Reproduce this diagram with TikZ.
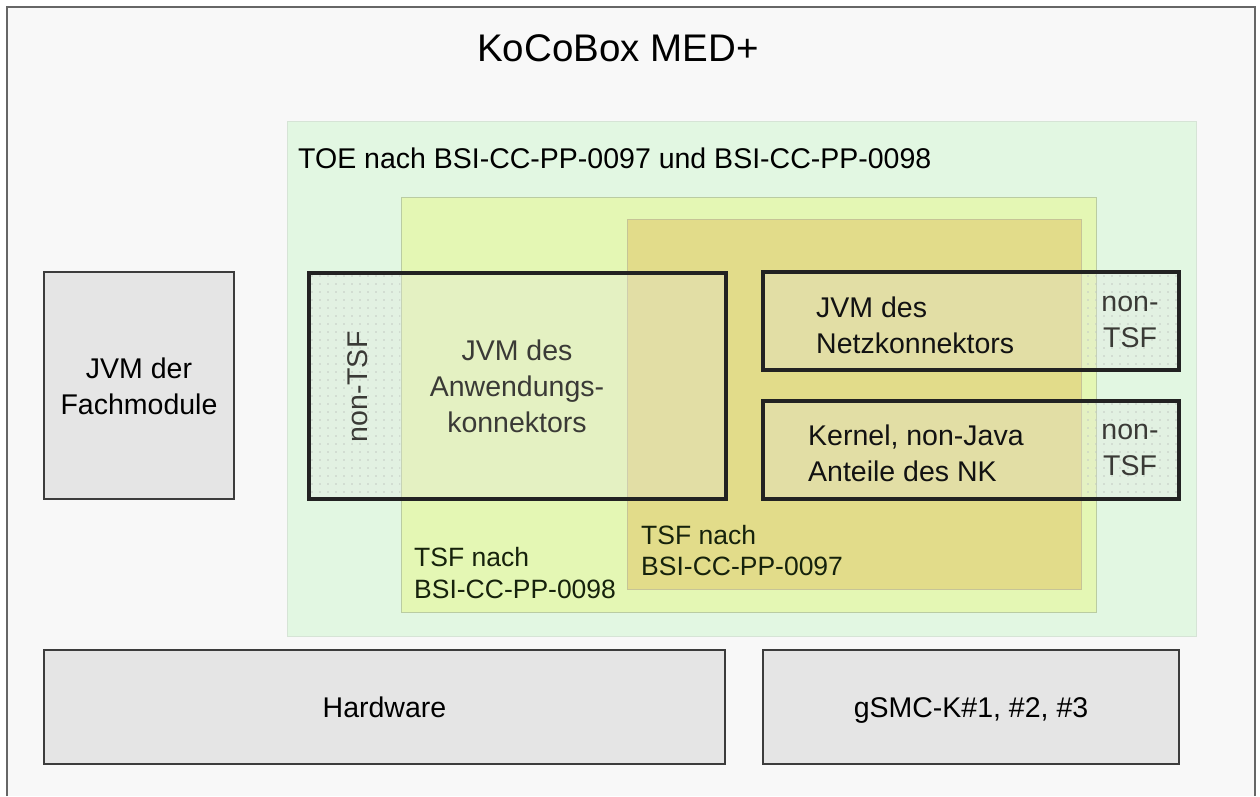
\documentclass[tikz,border=0pt]{standalone}
\usepackage{fontspec}
\setmainfont{Liberation Sans}
\usetikzlibrary{patterns.meta}
\definecolor{bgc}{HTML}{F8F8F8}
\definecolor{framec}{HTML}{666666}
\definecolor{toefill}{HTML}{E2F7E2}
\definecolor{toeline}{HTML}{D6E4D6}
\definecolor{tsfAfill}{HTML}{E4F7B4}
\definecolor{tsfAline}{HTML}{BACCA2}
\definecolor{tsfBfill}{HTML}{E2DC8A}
\definecolor{tsfBline}{HTML}{C6C496}
\definecolor{boxfill}{HTML}{E5E5E5}
\definecolor{boxline}{HTML}{3C3C3C}
\definecolor{compline}{HTML}{222222}
\definecolor{dotc}{HTML}{C2CAC2}
\definecolor{labc}{HTML}{16220C}
\definecolor{dimtext}{HTML}{3A3A36}
\begin{document}
\begin{tikzpicture}[x=1pt,y=-1pt,
  area/.style={anchor=north west, inner sep=0pt, outer sep=0pt},
  toebox/.style={area, draw=toeline, line width=1pt, fill=toefill},
  tsfA/.style={area, draw=tsfAline, line width=1pt, fill=tsfAfill},
  tsfB/.style={area, draw=tsfBline, line width=1pt, fill=tsfBfill},
  graybox/.style={area, draw=boxline, line width=1.8pt, fill=boxfill},
  compfill/.style={area, fill=boxfill, fill opacity=0.3},
  comptext/.style={font=\fontsize{28.5}{36}\selectfont, inner sep=0pt},
  smalltext/.style={font=\fontsize{26.5}{31.5}\selectfont, inner sep=0pt, text=labc, align=left},
  dotsarea/.style={area, pattern={Dots[distance=8pt, radius=0.9pt]}, pattern color=dotc},
  frameline/.style={area, draw=compline, line width=3.2pt}
]
\useasboundingbox (0,0) rectangle (1260,796);
% outer frame
\fill[bgc] (7,7) rectangle (1255,796);
\draw[framec, line width=2pt] (7,796) -- (7,7) -- (1255,7) -- (1255,796);
\node[comptext, font=\fontsize{38.5}{44}\selectfont, anchor=base] (title) at (618,61) {KoCoBox MED+};

% TOE and TSF areas
\node[toebox, minimum width=909pt, minimum height=515pt] (toe) at (287,121) {};
\node[comptext, anchor=base west] (toelabel) at (298,168) {TOE nach BSI-CC-PP-0097 und BSI-CC-PP-0098};
\node[tsfA, minimum width=695pt, minimum height=415pt] (tsf98) at (401,197) {};
\node[tsfB, minimum width=454pt, minimum height=370pt] (tsf97) at (627,219) {};
\node[smalltext, anchor=west] (tsf98label) at (414,573) {TSF nach\\BSI-CC-PP-0098};
\node[smalltext, anchor=west] (tsf97label) at (641,550.5) {TSF nach\\BSI-CC-PP-0097};

% left gray box
\node[graybox, minimum width=190pt, minimum height=227pt] (fach) at (44,272) {};
\node[comptext, align=center] (fachtext) at (139,386) {JVM der\\Fachmodule};

% components: fills
\node[compfill, minimum width=417pt, minimum height=226pt] (akfill) at (309,273) {};
\node[compfill, minimum width=416pt, minimum height=98pt] (nkfill) at (763,272) {};
\node[compfill, minimum width=416pt, minimum height=98pt] (kfill) at (763,401) {};
% non-TSF dotted parts
\node[dotsarea, minimum width=91pt, minimum height=226pt] (akdots) at (309,273) {};
\node[dotsarea, minimum width=98pt, minimum height=98pt] (nkdots) at (1081,272) {};
\node[dotsarea, minimum width=98pt, minimum height=98pt] (kdots) at (1081,401) {};
% component frames
\node[frameline, minimum width=417pt, minimum height=226pt] (ak) at (309,273) {};
\node[frameline, minimum width=416pt, minimum height=98pt] (nk) at (763,272) {};
\node[frameline, minimum width=416pt, minimum height=98pt] (kern) at (763,401) {};

% component texts
\node[comptext, align=center, text=dimtext] (aktext) at (517,386) {JVM des\\Anwendungs-\\konnektors};
\node[comptext, text=dimtext, rotate=90] (aknontsf) at (358,387) {non-TSF};
\node[comptext, align=left, anchor=west, text=black!93] (nktext) at (816,325.5) {JVM des\\Netzkonnektors};
\node[comptext, align=center, text=dimtext] (nknontsf) at (1130,321.5) {non-\\TSF};
\node[comptext, align=left, anchor=west, text=black!93] (ktext) at (808,453) {Kernel, non-Java\\Anteile des NK};
\node[comptext, align=center, text=dimtext] (knontsf) at (1130,450) {non-\\TSF};

% bottom boxes
\node[graybox, minimum width=681pt, minimum height=114pt] (hw) at (44,650) {};
\node[comptext, anchor=base] (hwtext) at (384.5,717) {Hardware};
\node[graybox, minimum width=416pt, minimum height=114pt] (gsmc) at (763,650) {};
\node[comptext, anchor=base] (gsmctext) at (971,717) {gSMC-K\#1, \#2, \#3};
\end{tikzpicture}
\end{document}
